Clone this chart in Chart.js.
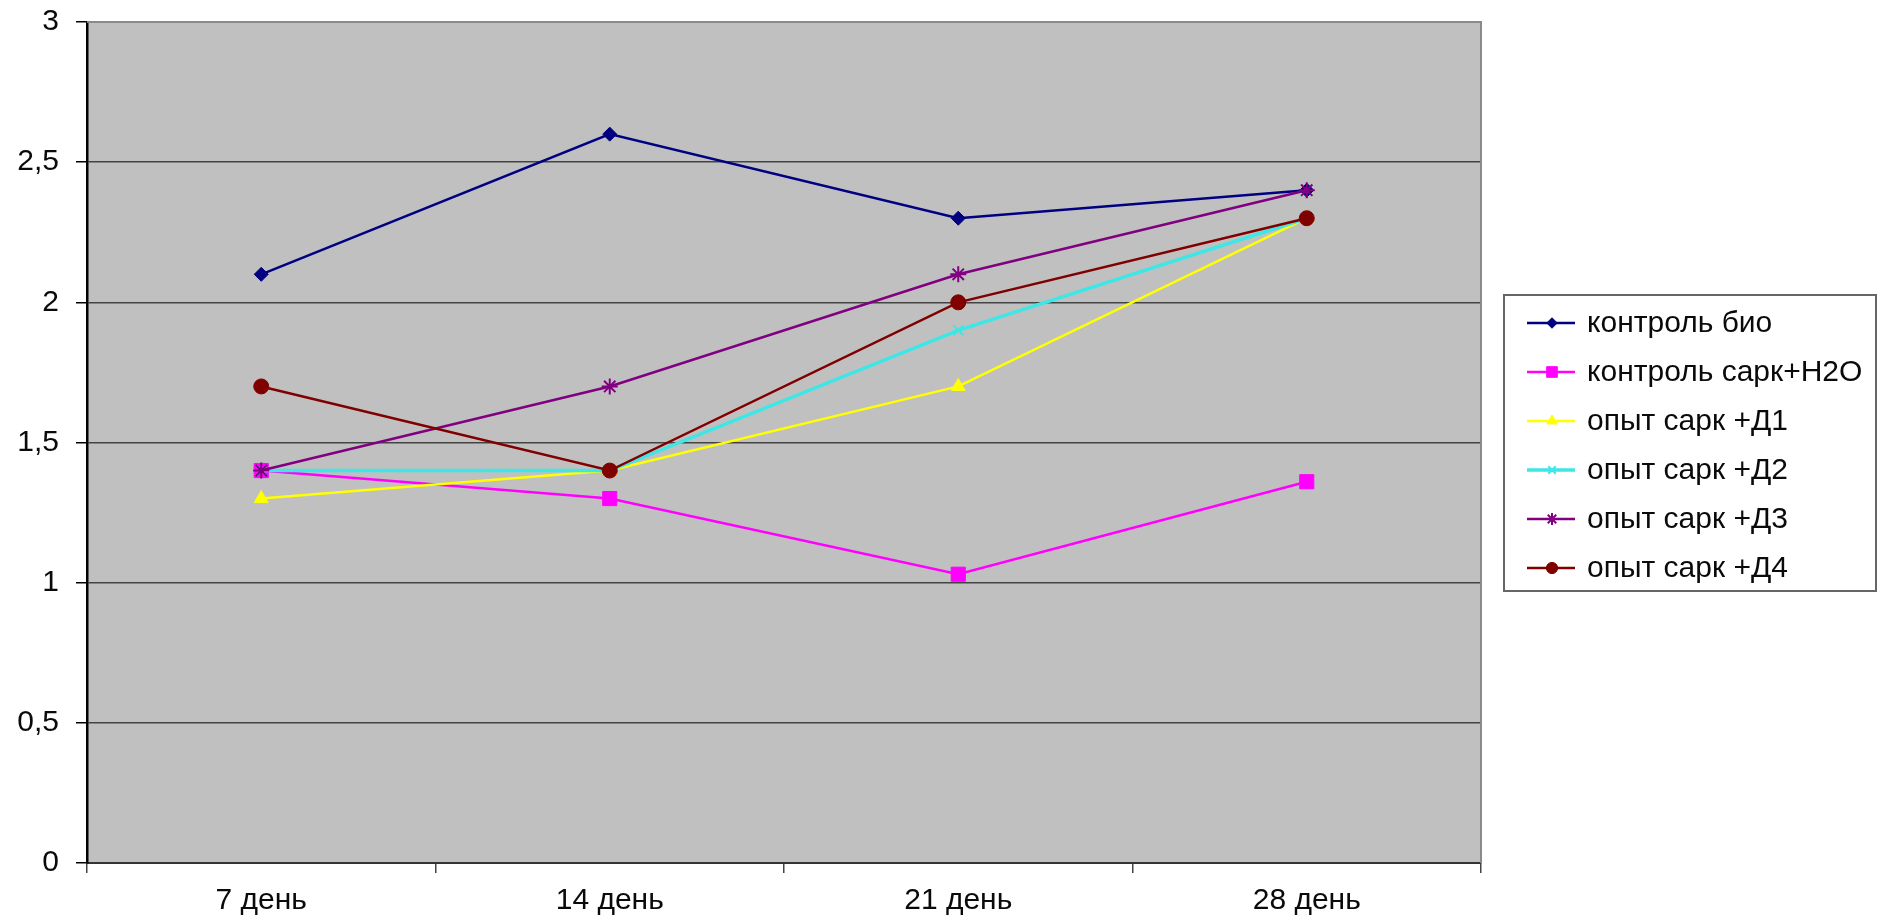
<!DOCTYPE html>
<html><head><meta charset="utf-8">
<script src="https://cdn.jsdelivr.net/npm/chart.js@4/dist/chart.umd.min.js"></script>
<style>html,body{margin:0;padding:0;background:#fff}#wrap{width:1879px;height:920px;position:relative}</style>
</head><body><div id="wrap"><canvas id="c" width="1879" height="920"></canvas></div>
<script>
// ---- data ----
const categories = ['7 день', '14 день', '21 день', '28 день'];
const seriesNames = ['контроль био', 'контроль сарк+H2O', 'опыт сарк +Д1', 'опыт сарк +Д2', 'опыт сарк +Д3', 'опыт сарк +Д4'];
const kontrolBio = [2.1, 2.6, 2.3, 2.4];
const kontrolSarkH2O = [1.4, 1.3, 1.03, 1.36];
const opytD1 = [1.3, 1.4, 1.7, 2.3];
const opytD2 = [1.4, 1.4, 1.9, 2.3];
const opytD3 = [1.4, 1.7, 2.1, 2.4];
const opytD4 = [1.7, 1.4, 2.0, 2.3];
const yTickLabels = ['0', '0,5', '1', '1,5', '2', '2,5', '3'];

// ---- styles ----
const FONT = '"Liberation Sans", Arial, "DejaVu Sans", sans-serif';
const seriesValues = [kontrolBio, kontrolSarkH2O, opytD1, opytD2, opytD3, opytD4];
const colors = ['#000080', '#ff00ff', '#ffff00', '#3ee6e6', '#800080', '#800000'];
const pointStyles = ['rectRot', 'rect', 'triangle', 'crossRot', 'star', 'circle'];
const radii = [7, 10, 8, 7, 8, 7.5];
const lineWidths = [2.5, 2.5, 2.5, 3.5, 2.5, 2.5];

const datasets = seriesValues.map((vals, i) => ({
  label: seriesNames[i],
  data: vals,
  borderColor: colors[i],
  backgroundColor: colors[i],
  borderWidth: lineWidths[i],
  pointStyle: pointStyles[i],
  pointRadius: radii[i],
  pointBackgroundColor: colors[i],
  pointBorderColor: colors[i],
  pointBorderWidth: (pointStyles[i] === 'star' || pointStyles[i] === 'crossRot') ? 2 : 1,
  tension: 0,
  fill: false,
  order: seriesValues.length - i
}));

const plotBg = {
  id: 'plotBg',
  beforeDraw(chart) {
    const {ctx, chartArea: a} = chart;
    ctx.save();
    ctx.fillStyle = '#c0c0c0';
    ctx.fillRect(a.left, a.top, a.right - a.left, a.bottom - a.top);
    ctx.restore();
  },
  afterDraw(chart) {
    const {ctx, chartArea: a} = chart;
    ctx.save();
    // plot border top and right
    ctx.strokeStyle = '#8a8a8a';
    ctx.lineWidth = 2;
    ctx.beginPath();
    ctx.moveTo(a.left, a.top);
    ctx.lineTo(a.right, a.top);
    ctx.lineTo(a.right, a.bottom);
    ctx.stroke();
    // legend
    const lx = 1504, ly = 295, lw = 372, lh = 296;
    ctx.fillStyle = '#ffffff';
    ctx.fillRect(lx, ly, lw, lh);
    ctx.strokeStyle = '#666666';
    ctx.lineWidth = 2;
    ctx.strokeRect(lx, ly, lw, lh);
    chart.data.datasets.forEach((ds, i) => {
      const y = 323 + i * 49;
      ctx.strokeStyle = ds.borderColor;
      ctx.lineWidth = ds.borderWidth;
      ctx.beginPath();
      ctx.moveTo(1527, y);
      ctx.lineTo(1575, y);
      ctx.stroke();
      ctx.fillStyle = ds.pointBackgroundColor;
      ctx.strokeStyle = ds.pointBorderColor;
      ctx.lineWidth = ds.pointBorderWidth;
      Chart.helpers.drawPoint(ctx, {pointStyle: ds.pointStyle, radius: ds.pointRadius * 0.75, rotation: 0, borderWidth: ds.pointBorderWidth}, 1552, y);
      ctx.fillStyle = '#0a0a0a';
      ctx.font = '30px ' + FONT;
      ctx.textBaseline = 'middle';
      ctx.textAlign = 'left';
      ctx.fillText(ds.label, 1587, y + 1);
    });
    ctx.restore();
  }
};

new Chart(document.getElementById('c'), {
  type: 'line',
  data: {labels: categories, datasets},
  options: {
    responsive: false,
    animation: false,
    devicePixelRatio: 1,
    layout: {padding: {top: 22, right: 398, bottom: 0, left: 0}},
    plugins: {legend: {display: false}, tooltip: {enabled: false}},
    scales: {
      x: {
        type: 'category',
        offset: true,
        grid: {offset: true, drawOnChartArea: false, drawTicks: true, tickLength: 10, tickColor: '#444', lineWidth: 1.5},
        border: {display: true, color: '#333', width: 2},
        ticks: {color: '#0a0a0a', font: {family: FONT, size: 30}, padding: 10, maxRotation: 0, autoSkip: false},
        afterFit(s) { s.height = 57; s.paddingLeft = 0; s.paddingRight = 0; }
      },
      y: {
        min: 0, max: 3,
        ticks: {stepSize: 0.5, callback: (v) => yTickLabels[Math.round(v / 0.5)], padding: 17, color: '#0a0a0a', font: {family: FONT, size: 30}},
        grid: {color: '#444', lineWidth: 1.5, tickLength: 11, tickColor: '#000'},
        border: {display: true, color: '#000', width: 2.5},
        afterFit(s) { s.width = 87; s.paddingTop = 0; s.paddingBottom = 0; }
      }
    }
  },
  plugins: [plotBg]
});
</script>
</body></html>
